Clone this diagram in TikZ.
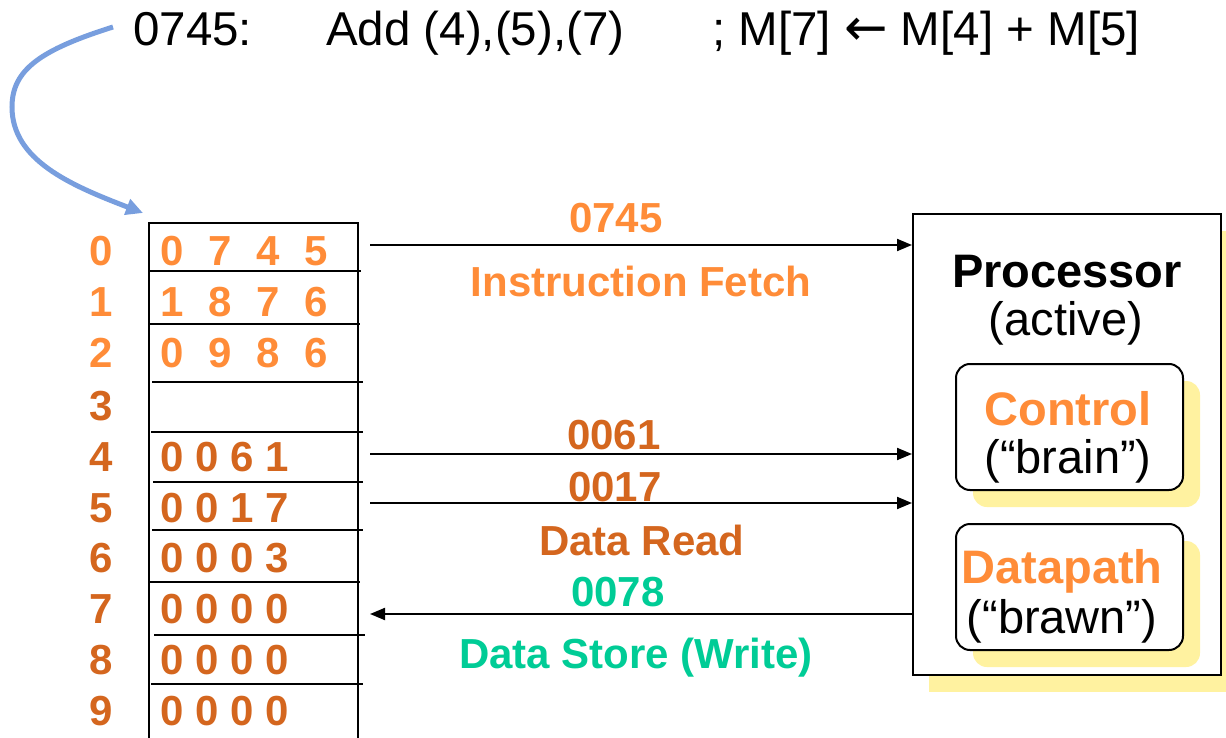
\documentclass[tikz,border=0pt]{standalone}
\usepackage{fontspec}
\setmainfont{Liberation Sans}
\newfontfamily\arrowfont{DejaVu Sans}
\usetikzlibrary{arrows.meta}
\definecolor{lor}{RGB}{255,140,56}
\definecolor{dor}{RGB}{212,102,30}
\definecolor{tealc}{RGB}{0,204,150}
\definecolor{blu}{RGB}{120,158,222}
\definecolor{shad}{RGB}{255,242,160}
\newcommand{\wide}[4]{\makebox[48pt]{#1}\makebox[48pt]{#2}\makebox[48pt]{#3}\makebox[48pt]{#4}}
\newcommand{\tight}[4]{\makebox[35pt]{#1}\makebox[35pt]{#2}\makebox[35pt]{#3}\makebox[35pt]{#4}}
\begin{document}
\begin{tikzpicture}[x=1pt,y=-1pt,
  ttl/.style={font=\fontsize{47.5}{54}\selectfont, anchor=base west, inner sep=0},
  lab/.style={font=\fontsize{42}{48}\selectfont\bfseries, inner sep=0},
  big/.style={font=\fontsize{47}{54}\selectfont, inner sep=0, anchor=base},
  memline/.style={line width=2pt},
  conn/.style={line width=2pt, -{Triangle[length=15pt,width=12pt]}},
  rbox/.style={draw, fill=white, line width=2pt, rounded corners=14pt, minimum width=227pt, minimum height=126pt, inner sep=0},
  sbox/.style={fill=shad, rounded corners=14pt}]
\useasboundingbox (0,0) rectangle (1226,738);

% title
\node[ttl] (t1) at (133,46) {0745:};
\node[ttl] (t2) at (326,46) {Add (4),(5),(7)};
\node[ttl] (t3) at (712,46) {; M[7] {\arrowfont\fontsize{52}{58}\selectfont ←} M[4] + M[5]};

% blue arrow
\coordinate (cs) at (113,27);
\coordinate (ce) at (143,213);
\draw[blu, line width=5pt, -{Triangle[length=17pt,width=16pt]}]
  (cs) .. controls (40,50) and (12,70) .. (12,107) .. controls (12,160) and (70,185) .. (ce);

% memory
\draw[memline] (149,745) -- (149,223) -- (358,223) -- (358,745);
\draw[memline] (149,271) -- (361,271);
\draw[memline] (150,324) -- (360,324);
\draw[memline] (152,382) -- (363,382);
\draw[memline] (151,432) -- (363,432);
\draw[memline] (153,482) -- (363,482);
\draw[memline] (152,530) -- (363,530);
\draw[memline] (150,582) -- (360,582);
\draw[memline] (154,635) -- (365,635);
\draw[memline] (151,684) -- (363,684);

% row labels
\node[lab, lor] (r0) at (101,251) {0};
\node[lab, lor] (r1) at (101,302) {1};
\node[lab, lor] (r2) at (101,353) {2};
\node[lab, dor] (r3) at (101,406) {3};
\node[lab, dor] (r4) at (101,457) {4};
\node[lab, dor] (r5) at (101,508) {5};
\node[lab, dor] (r6) at (101,558) {6};
\node[lab, dor] (r7) at (101,609) {7};
\node[lab, dor] (r8) at (101,660) {8};
\node[lab, dor] (r9) at (101,711) {9};

% cell contents
\node[lab, lor, anchor=west] (m0) at (148,251) {\wide0745};
\node[lab, lor, anchor=west] (m1) at (148,302) {\wide1876};
\node[lab, lor, anchor=west] (m2) at (148,353) {\wide0986};
\node[lab, dor, anchor=west] (m4) at (154.5,457) {\tight0061};
\node[lab, dor, anchor=west] (m5) at (154.5,508) {\tight0017};
\node[lab, dor, anchor=west] (m6) at (154.5,558) {\tight0003};
\node[lab, dor, anchor=west] (m7) at (154.5,609) {\tight0000};
\node[lab, dor, anchor=west] (m8) at (154.5,660) {\tight0000};
\node[lab, dor, anchor=west] (m9) at (154.5,711) {\tight0000};

% processor
\fill[shad] (929,231) rectangle (1245,692);
\node[draw, fill=white, line width=2pt, minimum width=308pt, minimum height=461pt, inner sep=0] (proc) at (1067,444.5) {};
\node[big, font=\fontsize{47}{54}\selectfont\bfseries] (pt) at (1067,287) {Processor};
\node[big] (pa) at (1066,335) {(active)};

\fill[sbox] (973,381) rectangle (1200,507);
\node[rbox] (ctrl) at (1069.5,427) {};
\node[big, lor, font=\fontsize{47}{54}\selectfont\bfseries] (ct) at (1068,425) {Control};
\node[big] (cb) at (1068,473) {(“brain”)};

\fill[sbox] (973,541) rectangle (1200,667);
\node[rbox] (dp) at (1069.5,587) {};
\node[big, lor, font=\fontsize{47}{54}\selectfont\bfseries] (dt) at (1062,583) {Datapath};
\node[big] (db) at (1062,633) {(“brawn”)};

% connectors
\coordinate (a0) at (370,245);
\coordinate (a4) at (370,454);
\coordinate (a5) at (370,503);
\coordinate (a7) at (370,614);
\draw[conn] (a0) -- (proc.west |- a0);
\draw[conn] (a4) -- (proc.west |- a4);
\draw[conn] (a5) -- (proc.west |- a5);
\draw[conn] (proc.west |- a7) -- (a7);

% connector labels
\node[lab, lor] (l1) at (616,218) {0745};
\node[lab, lor, anchor=base] (l2) at (641,296) {Instruction Fetch};
\node[lab, dor] (l3) at (614,435) {0061};
\node[lab, dor] (l4) at (615,487) {0017};
\node[lab, dor, anchor=base] (l5) at (642,555) {Data Read};
\node[lab, tealc] (l6) at (618,592) {0078};
\node[lab, tealc, anchor=base] (l7) at (636,668) {Data Store (Write)};
\end{tikzpicture}
\end{document}
